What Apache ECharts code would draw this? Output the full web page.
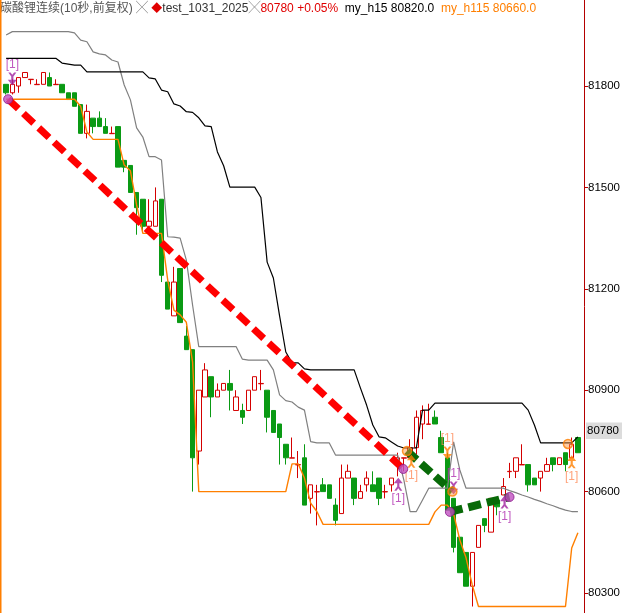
<!DOCTYPE html>
<html>
<head>
<meta charset="utf-8">
<title>碳酸锂连续</title>
<script src="https://cdn.jsdelivr.net/npm/echarts@6/dist/echarts.min.js"></script>
<style>
html, body { margin: 0; padding: 0; background: #fff; }
#main { width: 623px; height: 613px; }
</style>
</head>
<body>
<div id="main"></div>
<script>
// K线数据 [开, 收, 低, 高]
const candles = [
  [81805, 81780, 81775, 81805], [81780, 81805, 81775, 81820], [81800, 81825, 81780, 81825], [81825, 81840, 81825, 81840],
  [81819, 81820, 81805, 81820], [81804, 81805, 81804, 81820], [81805, 81840, 81805, 81840], [81825, 81800, 81800, 81840],
  [81804, 81805, 81804, 81820], [81805, 81780, 81780, 81805], [81780, 81760, 81760, 81780], [81780, 81740, 81740, 81780],
  [81745, 81660, 81660, 81745], [81660, 81725, 81645, 81745], [81705, 81680, 81660, 81705], [81705, 81680, 81680, 81725],
  [81680, 81660, 81660, 81705], [81659, 81660, 81659, 81680], [81680, 81560, 81560, 81680], [81580, 81560, 81545, 81580],
  [81565, 81485, 81485, 81565], [81485, 81440, 81360, 81485], [81465, 81385, 81370, 81465], [81385, 81400, 81385, 81465],
  [81385, 81460, 81385, 81500], [81465, 81240, 81220, 81465], [81220, 81140, 81140, 81220], [81120, 81220, 81120, 81265],
  [81260, 81100, 81100, 81260], [81060, 81020, 81020, 81090], [81020, 80700, 80600, 81020], [80720, 80900, 80680, 80900],
  [80880, 80960, 80880, 80980], [80940, 80880, 80820, 80940], [80880, 80900, 80880, 80920], [80900, 80920, 80900, 80920],
  [80920, 80900, 80840, 80960], [80840, 80880, 80840, 80900], [80840, 80820, 80800, 80860], [80840, 80900, 80840, 80900],
  [80900, 80940, 80900, 80940], [80919, 80920, 80900, 80960], [80900, 80820, 80775, 80900], [80840, 80775, 80775, 80840],
  [80800, 80760, 80680, 80800], [80740, 80700, 80680, 80740], [80699, 80700, 80699, 80760], [80679, 80680, 80640, 80720],
  [80700, 80560, 80560, 80740], [80580, 80620, 80535, 80620], [80599, 80600, 80500, 80620], [80620, 80600, 80600, 80640],
  [80620, 80580, 80580, 80620], [80560, 80515, 80500, 80580], [80535, 80640, 80535, 80680], [80640, 80660, 80640, 80680],
  [80640, 80580, 80560, 80640], [80580, 80600, 80580, 80620], [80620, 80640, 80600, 80660], [80620, 80600, 80600, 80660],
  [80640, 80580, 80560, 80640], [80599, 80600, 80580, 80620], [80620, 80640, 80600, 80640], [80680, 80700, 80645, 80715],
  [80699, 80700, 80660, 80700], [80700, 80730, 80700, 80755], [80730, 80820, 80710, 80840], [80800, 80840, 80755, 80855],
  [80799, 80800, 80799, 80860], [80820, 80800, 80800, 80840], [80760, 80715, 80715, 80780], [80700, 80545, 80545, 80715],
  [80580, 80435, 80420, 80580], [80465, 80360, 80360, 80465], [80420, 80320, 80320, 80420], [80320, 80420, 80260, 80420],
  [80435, 80500, 80435, 80500], [80520, 80500, 80480, 80520], [80480, 80580, 80480, 80580], [80575, 80555, 80530, 80575],
  [80590, 80615, 80590, 80640], [80659, 80660, 80640, 80685], [80660, 80700, 80640, 80700], [80679, 80680, 80679, 80740],
  [80680, 80620, 80600, 80680], [80640, 80620, 80620, 80640], [80640, 80660, 80600, 80660], [80660, 80680, 80660, 80700],
  [80700, 80680, 80660, 80700], [80680, 80700, 80680, 80700], [80715, 80680, 80660, 80715], [80700, 80740, 80700, 80760],
  [80760, 80715, 80715, 80760]
];

// 上轨 黑线
const upperBand = [
  81882, 81882, 81882, 81882, 81882, 81882, 81882, 81882, 81882, 81868, 81865, 81862, 81862,
  81842, 81842, 81842, 81842, 81842, 81842, 81842, 81842, 81842, 81842,
  81824, 81821, 81788, 81783, 81747, 81741, 81724, 81722, 81706, 81682, 81680, 81605, 81564,
  81501, 81501, 81501, 81501, 81501,
  81470, 81279, 81232, 81120, 81013, 80981, 80981, 80963,
  80960, 80960, 80960, 80960, 80960, 80960, 80960, 80960,
  80907, 80856, 80797, 80762, 80759, 80747, 80735, 80729, 80729, 80729,
  80841, 80841,
  80862, 80862, 80862, 80862, 80862, 80862, 80862, 80862, 80862, 80862, 80862, 80862, 80862, 80862, 80862,
  80841, 80797,
  80744, 80744, 80744, 80744, 80744, 80744,
  80762
];

// 中轨 灰线
const midBand = [
  81951, 81961, 81961, 81961, 81961, 81961, 81961, 81961, 81961, 81961, 81961,
  81957, 81936, 81931, 81901, 81895, 81892, 81877, 81871, 81803, 81759, 81676, 81649, 81591, 81591, 81581,
  81354, 81353, 81350, 81285, 81152,
  81029, 81029, 81029, 81029, 81029, 81029, 81029,
  80992, 80989, 80989, 80989, 80989,
  80960, 80886, 80869, 80865, 80850, 80841, 80748,
  80744, 80744, 80744,
  80708, 80708, 80708, 80708, 80708, 80708, 80708, 80708, 80708, 80708, 80708,
  80634, 80541, 80541, 80575,
  80610, 80610, 80610, 80610,
  80747, 80664,
  80610, 80610, 80610, 80610, 80610, 80610, 80610,
  80603, 80597, 80590, 80584, 80577, 80571, 80564, 80558, 80551, 80545, 80541, 80541
];

// 下轨 橙线
const lowerBand = [
  81761, 81761, 81761, 81761, 81761, 81761, 81761, 81761, 81761, 81761, 81761, 81761,
  81740, 81664,
  81642, 81642, 81642, 81642, 81642,
  81566, 81549, 81448,
  81364, 81364, 81364, 81364,
  81226, 81137, 81123, 81101, 80984,
  80600, 80600, 80600, 80600, 80600, 80600, 80600, 80600, 80600, 80600, 80600, 80600, 80600, 80600, 80600,
  80682, 80682, 80640, 80566, 80541,
  80503, 80503, 80503, 80503, 80503, 80503, 80503, 80503, 80503, 80503, 80503, 80503, 80503, 80503, 80503, 80503, 80503, 80503,
  80540, 80560, 80560, 80534, 80457, 80404, 80324,
  80260, 80260, 80260, 80260, 80260, 80260, 80260, 80260, 80260, 80260, 80260, 80260, 80260, 80260, 80260,
  80433, 80478
];

const yTicks = [80300, 80600, 80900, 81200, 81500, 81800];
const lastPrice = 80780;

// 信号点 [K线序号, 价格]
const purpleUp = [[63.1, 80622], [80.2, 80569]];
const purpleDown = [[1, 81821], [72, 80611]];
const purpleDots = [[0.32, 81761], [63.9, 80667], [71.4, 80540], [81, 80584]];
const orangeUp = [[65.2, 80690], [91, 80688]];
const orangeDown = [[71.0, 80714]];
const orangeDots = [[64.5, 80720], [71.8, 80600], [90.4, 80741]];

// 画线 虚线
const redTrend = [[0.32, 81761], [63.9, 80667]];
const greenTrend1 = [[64.5, 80720], [71.8, 80600]];
const greenTrend2 = [[71.4, 80540], [81, 80584]];

// 10秒一根
const categories = [];
for (let i = 0; i < candles.length; i++) {
  const s = 21 * 3600 + i * 10;
  const hh = String(Math.floor(s / 3600)).padStart(2, '0');
  const mm = String(Math.floor(s / 60) % 60).padStart(2, '0');
  const ss = String(s % 60).padStart(2, '0');
  categories.push(hh + ':' + mm + ':' + ss);
}

const RED = '#d40000';
const GREEN = '#0a9a14';
const AXIS_RED = '#b40000';
const PURPLE = '#a0229f';
const ORANGE = '#ff7f00';
const FONT = "'Liberation Sans', Arial, 'Noto Sans CJK SC', sans-serif";

const ARROW_UP = 'path://M5,0 L10,6 L6.2,6 L6.2,9.5 L9.5,14 L7,14 L5,11.5 L3,14 L0.5,14 L3.8,9.5 L3.8,6 L0,6 Z';
const ARROW_DOWN = 'path://M5,14 L10,8 L6.2,8 L6.2,4.5 L9.5,0 L7,0 L5,2.5 L3,0 L0.5,0 L3.8,4.5 L3.8,8 L0,8 Z';

function signal(name, data, symbol, color, labelColor, pos) {
  return {
    name: name,
    type: 'scatter',
    xAxisIndex: 1,
    symbol: symbol,
    symbolSize: [9, 13],
    z: 6,
    itemStyle: { color: color },
    label: {
      show: true,
      formatter: '[1]',
      position: pos,
      distance: 2,
      color: labelColor,
      fontSize: 12,
      fontFamily: FONT
    },
    data: data
  };
}

function trend(name, data, color, width, dash) {
  return {
    name: name,
    type: 'line',
    xAxisIndex: 1,
    symbol: 'none',
    z: 5,
    lineStyle: { color: color, width: width, type: dash, cap: 'butt' },
    data: data
  };
}

// 标题各段样式
function seg(color, size) {
  return { color: color, fontSize: size || 12, fontWeight: 'normal', fontFamily: FONT };
}

const chart = echarts.init(document.getElementById('main'), null, { renderer: 'canvas' });

chart.setOption({
  animation: false,
  backgroundColor: '#fff',
  title: {
    left: 0,
    top: 3,
    padding: 0,
    text: '{a|碳酸锂连续(10秒,前复权)} {x|╳} {d|◆}{b|test_1031_2025}{x|╳}{r|80780 +0.05%}  {k|my_h15 80820.0}  {o|my_h115 80660.0}',
    textStyle: {
      fontSize: 12,
      fontWeight: 'normal',
      fontFamily: FONT,
      rich: {
        a: seg('#555'),
        x: seg('#666'),
        d: seg('#e00000', 11),
        b: seg('#333'),
        r: seg('#e00000'),
        k: seg('#000'),
        o: seg(ORANGE)
      }
    }
  },
  grid: { left: 3, right: 37, top: 0, bottom: 0 },
  xAxis: [
    { type: 'category', data: categories, show: false, boundaryGap: true },
    { type: 'value', min: -0.5, max: candles.length - 0.5, show: false }
  ],
  yAxis: {
    type: 'value',
    position: 'right',
    offset: 3,
    min: 80240.8,
    max: 82054.5,
    splitLine: { show: false },
    axisLine: { show: true, onZero: false, lineStyle: { color: AXIS_RED, width: 1 } },
    axisTick: { show: true, length: 4, customValues: yTicks, lineStyle: { color: AXIS_RED } },
    axisLabel: {
      customValues: yTicks,
      margin: 4,
      color: '#000',
      fontSize: 11.5,
      fontFamily: FONT,
      formatter: function (v) { return String(v); }
    }
  },
  graphic: [
    // 左边橙色竖线
    { type: 'rect', left: 0, top: 0, shape: { width: 1.5, height: 613 }, style: { fill: ORANGE }, z: 10 }
  ],
  series: [
    {
      name: 'K线',
      type: 'candlestick',
      barWidth: 5,
      itemStyle: {
        color: '#fff',
        color0: GREEN,
        borderColor: RED,
        borderColor0: GREEN,
        borderWidth: 1
      },
      // 最新价标签
      markLine: {
        silent: true,
        symbol: 'none',
        lineStyle: { color: 'rgba(0,0,0,0)', width: 1, type: 'solid' },
        label: {
          show: true,
          position: 'end',
          distance: 5,
          formatter: String(lastPrice),
          color: '#000',
          fontSize: 11.5,
          fontFamily: FONT,
          backgroundColor: '#dcdcdc',
          padding: [3, 3, 2, 1]
        },
        data: [{ yAxis: lastPrice }]
      },
      data: candles
    },
    { name: 'mid', type: 'line', symbol: 'none', z: 3, lineStyle: { color: '#808080', width: 1.2 }, data: midBand },
    { name: 'my_h15', type: 'line', symbol: 'none', z: 3, lineStyle: { color: '#000', width: 1.2 }, data: upperBand },
    { name: 'my_h115', type: 'line', symbol: 'none', z: 3, lineStyle: { color: ORANGE, width: 1.4 }, data: lowerBand },
    trend('red', redTrend, '#ff0000', 7, [14, 7]),
    trend('green1', greenTrend1, '#086a08', 8, [13, 6]),
    trend('green2', greenTrend2, '#086a08', 8, [13, 6]),
    signal('pu', purpleUp, ARROW_UP, PURPLE, '#b030b0', 'bottom'),
    signal('pd', purpleDown, ARROW_DOWN, PURPLE, '#b030b0', 'top'),
    signal('ou', orangeUp, ARROW_UP, ORANGE, '#ff8c5a', 'bottom'),
    signal('od', orangeDown, ARROW_DOWN, ORANGE, '#ff8c5a', 'top'),
    {
      name: 'pdot', type: 'scatter', xAxisIndex: 1, symbol: 'circle', symbolSize: 9, z: 7,
      itemStyle: { color: '#c050c0', borderColor: '#8a1a8a', borderWidth: 1 },
      data: purpleDots
    },
    {
      name: 'odot', type: 'scatter', xAxisIndex: 1, symbol: 'circle', symbolSize: 9, z: 7,
      itemStyle: { color: 'rgba(255,150,60,0.6)', borderColor: ORANGE, borderWidth: 1.5 },
      data: orangeDots
    }
  ]
});
</script>
</body>
</html>
